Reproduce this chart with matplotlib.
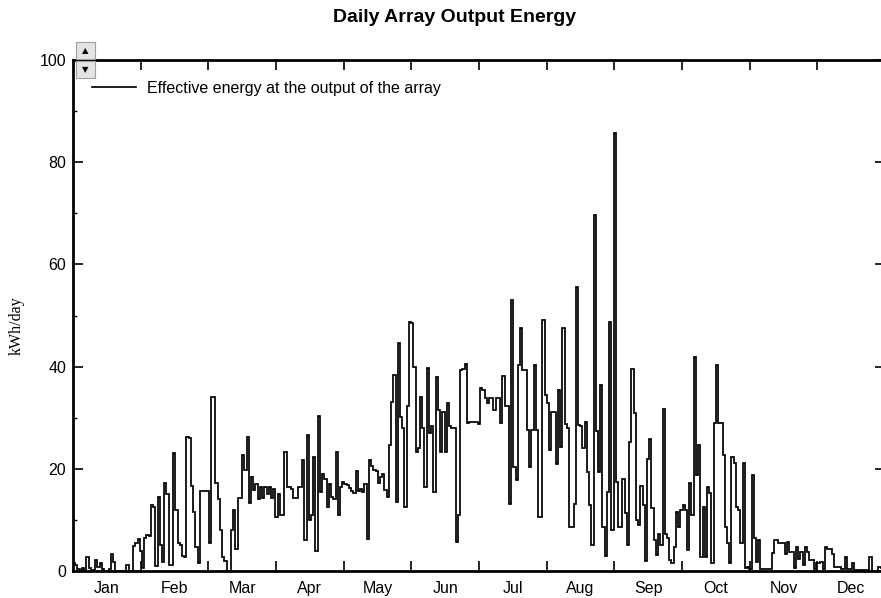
import numpy as np
import matplotlib
matplotlib.use("Agg")
import matplotlib.pyplot as plt
from matplotlib.patches import Rectangle
from matplotlib.ticker import FixedLocator, MultipleLocator

plt.rcParams['font.family'] = ['Liberation Sans', 'DejaVu Sans']

months = ['Jan', 'Feb', 'Mar', 'Apr', 'May', 'Jun',
          'Jul', 'Aug', 'Sep', 'Oct', 'Nov', 'Dec']

# daily effective energy at array output, kWh/day
jan = [1.5, 1.2, 0.3, 0, 0.6, 0, 2.7, 0.5, 0, 0.2, 2.2, 0.8, 1.6, 0.3, 0, 0,
       0.3, 3.3, 1.8, 0, 0, 0, 0, 0, 1.2, 0, 0, 4.8, 5.5, 6.2, 4.0]
feb = [0.5, 6.5, 7.0, 6.8, 13.0, 12.5, 1.0, 14.5, 5.0, 1.8, 17.2, 15.0, 1.2, 1.2,
       23.0, 12.0, 5.5, 5.0, 3.0, 2.8, 26.3, 26.0, 16.6, 11.5, 4.7, 1.5, 15.7, 15.7]
mar = [15.7, 15.7, 5.5, 34.1, 34.0, 17.2, 14.0, 8.0, 2.8, 2.0, 0, 0, 8.0, 12.0,
       4.4, 14.3, 14.3, 22.7, 19.8, 26.3, 13.3, 18.4, 15.8, 17.0, 14.0, 16.5, 14.2,
       16.5, 15.0, 16.5, 14.2]
apr = [16.0, 10.6, 15.0, 11.0, 11.0, 23.3, 16.5, 16.5, 16.0, 14.3, 14.3, 16.5,
       16.5, 21.7, 6.0, 26.6, 10.0, 11.0, 22.3, 4.0, 30.3, 15.5, 19.0, 18.0, 12.6,
       17.0, 14.5, 14.0, 23.3, 10.9]
may = [16.5, 17.4, 17.0, 16.8, 16.2, 15.6, 15.3, 19.5, 15.6, 16.0, 15.4, 17.0,
       6.3, 21.7, 20.5, 19.8, 19.5, 17.2, 18.4, 19.0, 15.9, 14.5, 24.7, 33.1, 38.4,
       13.6, 44.6, 30.2, 28.0, 12.6, 32.2]
jun = [48.8, 48.5, 40.0, 23.3, 24.0, 34.1, 28.0, 16.5, 39.7, 27.1, 28.3, 15.5,
       38.0, 31.5, 23.3, 31.2, 23.3, 32.8, 28.3, 28.0, 28.0, 5.6, 10.9, 39.3, 39.5,
       40.6, 28.9, 29.2, 29.2, 29.2]
jul = [29.2, 28.8, 35.8, 35.5, 33.8, 32.8, 33.8, 33.8, 31.5, 33.8, 33.8, 28.9,
       38.2, 32.2, 32.2, 13.2, 53.0, 20.4, 17.8, 40.3, 47.5, 39.3, 39.3, 27.6, 20.4,
       27.6, 40.3, 27.6, 10.6, 10.6, 49.1]
aug = [34.4, 32.8, 23.7, 31.2, 31.2, 21.0, 35.5, 24.3, 47.5, 28.8, 27.9, 8.7,
       8.7, 13.2, 55.6, 28.6, 28.3, 24.0, 29.2, 19.4, 13.0, 5.1, 69.7, 27.3, 19.4,
       36.4, 8.7, 2.9, 15.5, 48.8, 8.1]
sep = [85.7, 17.5, 8.7, 8.7, 18.0, 11.3, 5.1, 25.3, 39.6, 30.9, 10.0, 9.0, 16.6,
       13.0, 1.9, 22.0, 25.9, 12.4, 6.0, 3.2, 7.2, 5.0, 31.8, 7.2, 6.4, 2.2, 1.5,
       4.7, 11.6, 8.7]
oct_ = [12.0, 13.0, 12.0, 4.1, 17.2, 10.9, 41.9, 18.8, 24.7, 2.8, 12.6, 2.8,
        16.5, 15.2, 1.5, 28.9, 40.3, 28.9, 28.9, 22.7, 8.7, 5.5, 1.5, 22.4, 21.1,
        12.6, 12.0, 5.5, 21.1, 0.5, 0.8]
nov = [0.3, 18.8, 6.4, 1.8, 6.0, 0.4, 0.3, 0.3, 0.3, 0.3, 3.5, 6.1, 6.1, 5.5,
       5.4, 5.4, 3.3, 5.7, 3.8, 3.8, 0.5, 4.6, 2.4, 3.8, 1.2, 4.6, 3.8, 2.2, 2.2, 0.3]
dec = [1.5, 1.6, 1.8, 0.3, 4.6, 4.3, 4.3, 3.3, 0.7, 0.7, 0.7, 0.3, 0.3, 2.7, 0.3,
       0.3, 1.6, 0.1, 0.1, 0.1, 0.1, 0.1, 0.1, 0.1, 2.8, 0, 0, 0, 0.7, 0.5, 0.3]

energy = np.array(jan + feb + mar + apr + may + jun + jul + aug + sep + oct_ + nov + dec)
days = np.arange(len(energy) + 1)

fig = plt.figure(figsize=(8.81, 5.98), dpi=100)
W, H = 881, 598
ax = fig.add_axes([73 / W, 27 / H, 812 / W, 511 / H])

ax.stairs(energy, days, color='black', lw=1.25, baseline=None,
          label='Effective energy at the output of the array')

ax.set_xlim(0, 365)
ax.set_ylim(0, 100)

# month boundaries as ticks, month names centred in between
mlen = 365 / 12
ax.xaxis.set_major_locator(FixedLocator([mlen * k for k in range(1, 12)]))
ax.xaxis.set_minor_locator(FixedLocator([mlen * (k + 0.5) for k in range(12)]))
ax.xaxis.set_major_formatter(plt.NullFormatter())
ax.set_xticklabels(months, minor=True)
ax.tick_params(axis='x', which='major', direction='in', length=7, width=1.2,
               top=True, bottom=True)
ax.tick_params(axis='x', which='minor', length=0, pad=7.5, labelsize=11.5)

ax.yaxis.set_major_locator(MultipleLocator(20))
ax.yaxis.set_minor_locator(MultipleLocator(10))
ax.tick_params(axis='y', which='major', direction='in', length=7, width=1.2,
               left=True, right=True, pad=5, labelsize=11.5)
ax.tick_params(axis='y', which='minor', direction='in', length=3, width=1.0,
               left=True, right=True)

for s in ['left', 'bottom', 'top']:
    ax.spines[s].set_linewidth(2.0)
ax.spines['right'].set_linewidth(1.0)

ax.legend(loc='upper left', frameon=False, fontsize=11.5,
          bbox_to_anchor=((92 - 73) / 812, (571 - 81) / 511),
          borderaxespad=0, borderpad=0, handlelength=2.75, handletextpad=0.72)

fig.text(455 / W, 1 - 17 / H, 'Daily Array Output Energy', ha='center', va='center',
         fontsize=14, fontweight='bold')
fig.text(17 / W, 1 - 326 / H, 'kWh/day', rotation=90, ha='center', va='center',
         fontsize=11.5, family=['Liberation Serif', 'DejaVu Serif'])

# little scroll buttons in the top left corner
for y0, mark in [(42, '\u25b2'), (61, '\u25bc')]:
    fig.patches.append(Rectangle((76 / W, 1 - (y0 + 17) / H), 19 / W, 17 / H,
                                 transform=fig.transFigure, facecolor='#e4e4e4',
                                 edgecolor='#a0a0a0', lw=0.8, zorder=5))
    fig.text(85.5 / W, 1 - (y0 + 8.5) / H, mark, ha='center', va='center',
             fontsize=6, family=['DejaVu Sans'], zorder=6)

fig.savefig('out.png', dpi=100)
